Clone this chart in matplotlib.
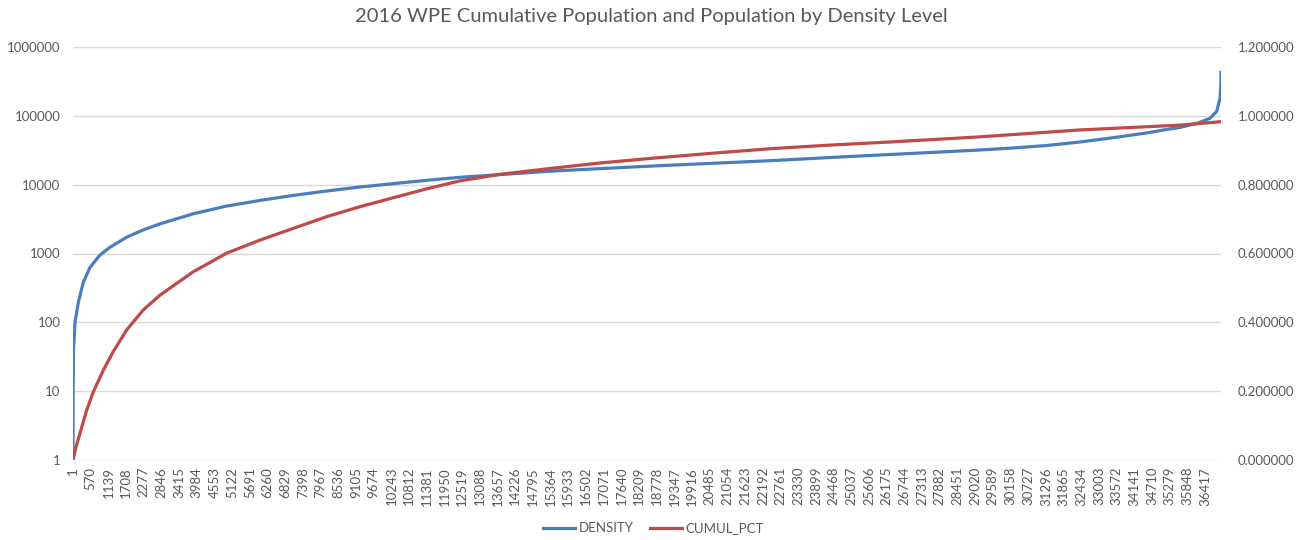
import matplotlib.pyplot as plt
from matplotlib.lines import Line2D

plt.rcParams['font.family'] = ['Lato', 'DejaVu Sans']

# row index (rows sorted by density) and values
density_idx = [1, 5, 15, 40, 65, 171, 332, 548, 869, 1191, 1728, 2262, 2799, 3870,
               4945, 6016, 7087, 8161, 9232, 10303, 11378, 12449, 13735, 15343,
               16951, 18785, 20651, 22516, 24350, 25958, 27566, 29174, 30235, 31329,
               32390, 33452, 34545, 35060, 35607, 36154, 36572, 36787, 36893, 36920,
               36925]
density_val = [1, 10, 40, 60, 99, 194, 380, 629, 951, 1233, 1725, 2205, 2697, 3776,
               4891, 5900, 6980, 8090, 9250, 10350, 11570, 12800, 14000, 15700,
               17100, 18800, 20500, 22400, 24800, 27000, 29300, 31900, 34100, 37100,
               41700, 48100, 56500, 62100, 67900, 77800, 92000, 116000, 180000, 280000,
               430000]

cumul_idx = [1, 97, 226, 442, 654, 976, 1297, 1728, 2262, 2799, 3870, 4945, 6016,
             7087, 8161, 9232, 10303, 11378, 12449, 13735, 15343, 16951, 18785,
             20651, 22516, 24350, 26279, 29174, 32390, 35607, 36925]
cumul_val = [0.0, 0.038, 0.0776, 0.145, 0.198, 0.261, 0.315, 0.378, 0.436, 0.479,
             0.547, 0.601, 0.639, 0.673, 0.707, 0.736, 0.762, 0.788, 0.811, 0.830,
             0.847, 0.863, 0.878, 0.892, 0.905, 0.915, 0.924, 0.939, 0.959, 0.973,
             0.983]

n_rows = 36925
tick_pos = list(range(1, n_rows, 569))

blue = '#4a7ebb'
red = '#be4b48'
grey = '#595959'

fig = plt.figure(figsize=(13.02, 5.40), dpi=100)
ax = fig.add_axes([73 / 1302, 1 - 460 / 540, (1221 - 73) / 1302, (460 - 47) / 540])
ax2 = ax.twinx()

ax.plot(density_idx, density_val, color=blue, lw=2.3, solid_joinstyle='round')
ax2.plot(cumul_idx, cumul_val, color=red, lw=2.3, solid_joinstyle='round')

ax.set_yscale('log')
ax.set_ylim(1, 1000000)
ax.set_yticks([1, 10, 100, 1000, 10000, 100000, 1000000])
ax.set_yticklabels(['1', '10', '100', '1000', '10000', '100000', '1000000'])
ax.minorticks_off()
ax.set_xlim(1, n_rows)
ax.set_xticks(tick_pos)
ax.set_xticklabels([str(t) for t in tick_pos], rotation=90)
ax.grid(axis='y', color='#d9d9d9', lw=1)
ax.set_axisbelow(True)

ax2.set_ylim(0, 1.2)
ax2.set_yticks([0, 0.2, 0.4, 0.6, 0.8, 1.0, 1.2])
ax2.set_yticklabels(['%.6f' % v for v in [0, 0.2, 0.4, 0.6, 0.8, 1.0, 1.2]])

for a in (ax, ax2):
    for s in a.spines.values():
        s.set_visible(False)
    a.tick_params(length=0, labelsize=9.5, labelcolor=grey)
ax.tick_params(axis='y', pad=9)
ax.tick_params(axis='x', pad=5)
ax2.tick_params(axis='y', pad=12)

fig.suptitle('2016 WPE Cumulative Population and Population by Density Level',
             y=0.985, fontsize=14.5, color=grey)

handles = [Line2D([], [], color=blue, lw=2.3), Line2D([], [], color=red, lw=2.3)]
fig.legend(handles, ['DENSITY', 'CUMUL_PCT'], loc='center', bbox_to_anchor=(0.502, 0.022),
           ncol=2, frameon=False, fontsize=9.5, labelcolor=grey, handlelength=2.4,
           handletextpad=0.25, columnspacing=1.3)

fig.savefig('out.png', dpi=100)
